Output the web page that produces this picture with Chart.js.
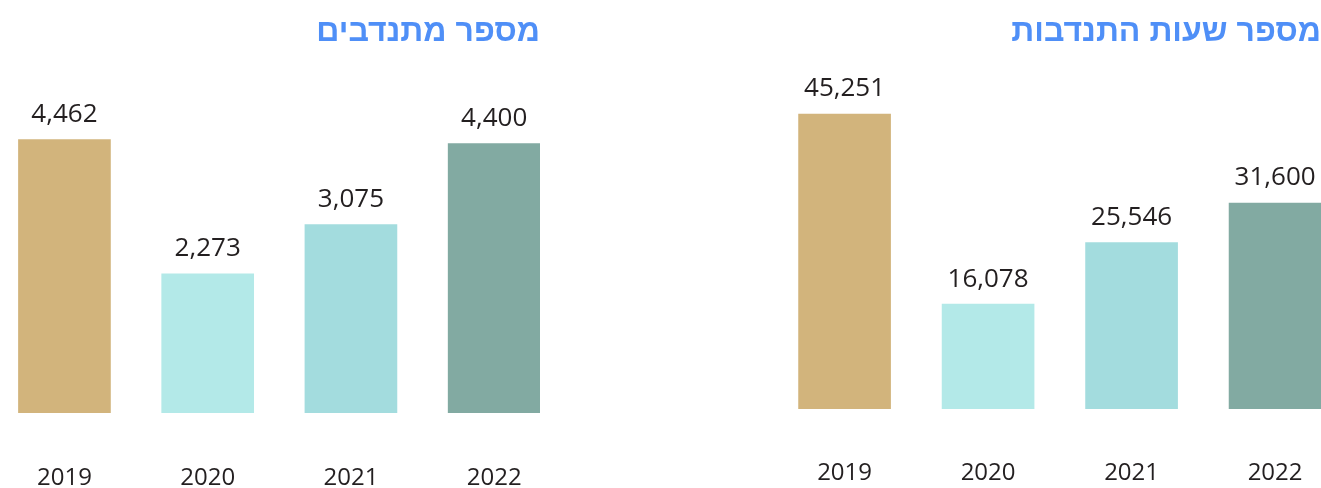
<!DOCTYPE html>
<html lang="he">
<head>
<meta charset="utf-8">
<script src="https://cdn.jsdelivr.net/npm/chart.js@4/dist/chart.umd.min.js"></script>
<style>
  html, body { margin: 0; padding: 0; background: #ffffff; overflow: hidden; width: 1321px; height: 488px; }
  canvas { position: absolute; top: 0; }
  #volunteers { left: 0; }
  #hours { left: 780px; }
</style>
</head>
<body>
<canvas id="volunteers" width="540" height="500"></canvas>
<canvas id="hours" width="541" height="500"></canvas>
<script>
// Yearly figures
const years = [2019, 2020, 2021, 2022];
const volunteers = [4462, 2273, 3075, 4400];
const volunteerHours = [45251, 16078, 25546, 31600];
const barColors = ['#D2B47C', '#B3E9E8', '#A3DCDE', '#82AAA2'];
const volunteersTitle = 'מספר מתנדבים';
const hoursTitle = 'מספר שעות התנדבות';

const textColor = '#231F20';
const titleColor = '#4F8FF7';
const numFont = '"Open Sans", "DejaVu Sans", sans-serif';

const fmt = v => v.toLocaleString('en-US');

// Writes each bar's value above it and the year under the baseline
const barTexts = {
  id: 'barTexts',
  afterDatasetsDraw(chart, args, opts) {
    const ctx = chart.ctx;
    const ds = chart.data.datasets[0];
    const meta = chart.getDatasetMeta(0);
    const xScale = chart.scales.x;
    const base = chart.chartArea.bottom;
    ctx.save();
    ctx.fillStyle = textColor;
    ctx.textAlign = 'center';
    ctx.textBaseline = 'middle';
    ctx.font = '26px ' + numFont;
    meta.data.forEach((bar, i) => {
      ctx.fillText(fmt(ds.data[i].y), bar.x, bar.y - 25);
    });
    ctx.font = '24px ' + numFont;
    years.forEach(yr => {
      ctx.fillText(String(yr), xScale.getPixelForValue(yr), base + opts.yearGap);
    });
    ctx.restore();
  }
};

function makePanel(id, title, values, yMax, bottomPad, yearGap) {
  return new Chart(document.getElementById(id), {
    type: 'bar',
    data: {
      datasets: [{
        data: years.map((yr, i) => ({ x: yr, y: values[i] })),
        backgroundColor: barColors,
        borderWidth: 0,
        barThickness: 92
      }]
    },
    options: {
      responsive: false,
      animation: false,
      layout: { autoPadding: false, padding: { left: 0, right: 0, top: 0, bottom: bottomPad } },
      plugins: {
        legend: { display: false },
        tooltip: { enabled: false },
        barTexts: { yearGap: yearGap },
        title: {
          display: true,
          text: title,
          align: 'end',
          color: titleColor,
          font: { family: '"Liberation Sans", Arial, sans-serif', size: 32, weight: 'bold', lineHeight: 1.2 },
          padding: { top: 13, bottom: 18.6 }
        }
      },
      scales: {
        x: {
          type: 'linear',
          offset: false,
          display: false,
          min: years[0] - 0.45,
          max: years[years.length - 1] + 0.32
        },
        y: {
          display: false,
          min: 0,
          max: yMax
        }
      }
    },
    plugins: [barTexts]
  });
}

makePanel('volunteers', volunteersTitle, volunteers, 5600, 87, 65);
makePanel('hours', hoursTitle, volunteerHours, 52000, 91, 64);
</script>
</body>
</html>
